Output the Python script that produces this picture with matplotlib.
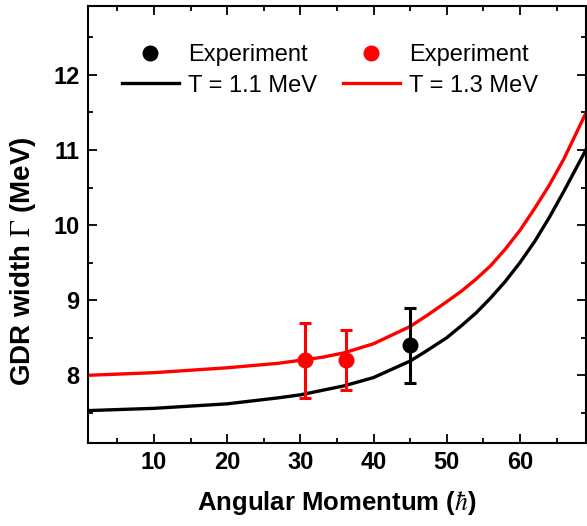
import matplotlib
matplotlib.use("Agg")
import matplotlib.pyplot as plt
from matplotlib.ticker import MultipleLocator

plt.rcParams["font.family"] = ["Liberation Sans", "DejaVu Sans"]
plt.rcParams["mathtext.fontset"] = "stix"

# ── Data ──
L_11 = [1, 10, 20, 27, 30, 36, 40, 45, 47, 50, 52, 54, 56, 58, 60, 62, 64, 66, 69]
G_11 = [7.53, 7.56, 7.62, 7.70, 7.74, 7.86, 7.97, 8.19, 8.31, 8.50, 8.66, 8.83,
        9.03, 9.25, 9.50, 9.78, 10.10, 10.45, 11.0]

L_13 = [1, 10, 20, 27, 30, 33, 36, 40, 45, 47.5, 50, 52, 54, 56, 58, 60, 62, 64, 66, 69]
G_13 = [8.0, 8.035, 8.10, 8.16, 8.20, 8.24, 8.30, 8.42, 8.65, 8.81, 8.98, 9.12,
        9.28, 9.46, 9.68, 9.93, 10.22, 10.53, 10.88, 11.49]

exp_L_11 = [45.0]
exp_G_11 = [8.4]
exp_err_11 = [0.5]

exp_L_13 = [30.7, 36.2]
exp_G_13 = [8.2, 8.2]
exp_err_13 = [0.5, 0.4]

RED = "#ff0000"

fig = plt.figure(figsize=(5.87, 5.26), dpi=100)
ax = fig.add_axes([0.150, 0.158, 0.848, 0.831])

ax.plot(L_11, G_11, color="black", lw=2.4, zorder=2)
ax.plot(L_13, G_13, color=RED, lw=2.4, zorder=2)

ax.errorbar(exp_L_13, exp_G_13, yerr=exp_err_13, fmt="o", color=RED,
            ms=10.5, elinewidth=2.2, capsize=4.5, capthick=2.2, zorder=3)
ax.errorbar(exp_L_11, exp_G_11, yerr=exp_err_11, fmt="o", color="black",
            ms=10.5, elinewidth=2.2, capsize=4.5, capthick=2.2, zorder=4)

ax.set_xlim(1, 69)
ax.set_ylim(7.1, 12.92)

ax.xaxis.set_major_locator(MultipleLocator(10))
ax.xaxis.set_minor_locator(MultipleLocator(5))
ax.yaxis.set_major_locator(MultipleLocator(1))
ax.yaxis.set_minor_locator(MultipleLocator(0.5))

ax.tick_params(which="both", direction="in", top=True, right=True, width=1.3)
ax.tick_params(which="major", length=6.5, labelsize=17, pad=6)
ax.tick_params(which="minor", length=3.5)
for lab in ax.get_xticklabels() + ax.get_yticklabels():
    lab.set_fontweight("bold")
for sp in ax.spines.values():
    sp.set_linewidth(1.5)

ax.set_xlabel(r"Angular Momentum ($\hbar$)", fontsize=18.5, fontweight="bold")
ax.set_ylabel(r"GDR width $\Gamma$ (MeV)", fontsize=20, fontweight="bold")
ax.xaxis.set_label_coords(0.5, -0.105)
ax.yaxis.set_label_coords(-0.1, 0.415)

# ── Legend: two columns (black | red) ──
h = [plt.Line2D([0], [0], ls="none", marker="o", color="black", ms=10.5),
     plt.Line2D([0], [0], color="black", lw=2.4),
     plt.Line2D([0], [0], ls="none", marker="o", color=RED, ms=10.5),
     plt.Line2D([0], [0], color=RED, lw=2.4)]
labels = ["Experiment", "T = 1.1 MeV", "Experiment", "T = 1.3 MeV"]
ax.legend(h, labels, ncol=2, loc="upper left", bbox_to_anchor=(0.068, 0.912),
          frameon=False, fontsize=17, handlelength=2.4, handletextpad=0.4,
          columnspacing=1.1, labelspacing=0.36, borderpad=0, borderaxespad=0)

fig.savefig("out.png", dpi=100)
